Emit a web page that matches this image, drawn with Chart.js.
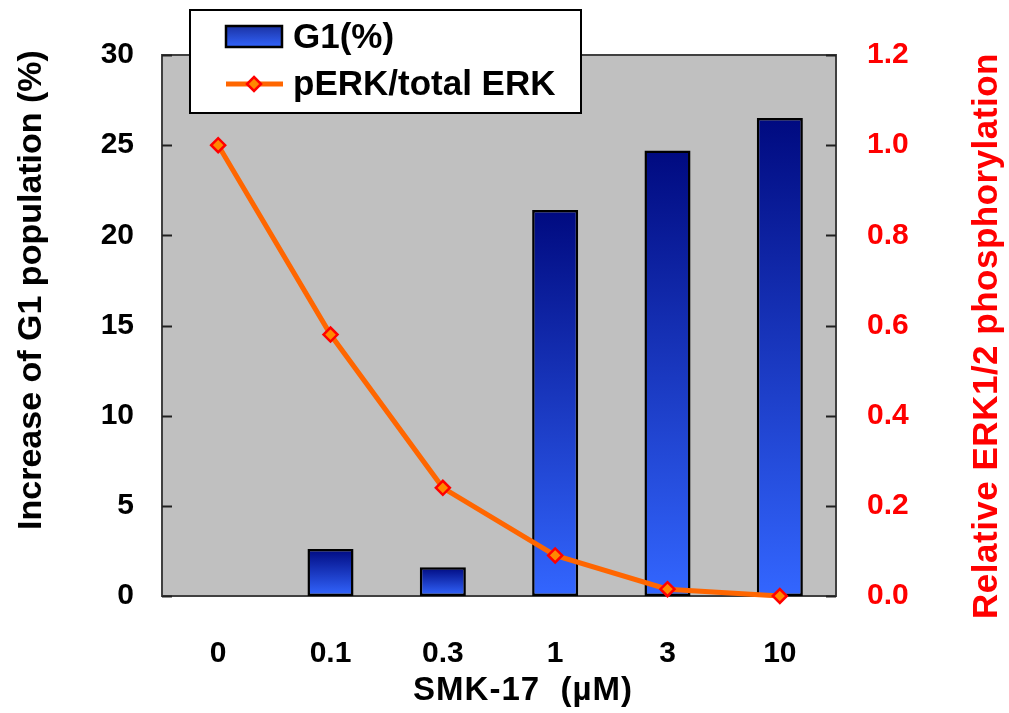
<!DOCTYPE html>
<html>
<head>
<meta charset="utf-8">
<title>SMK-17: G1 population and ERK phosphorylation</title>
<script src="https://cdn.jsdelivr.net/npm/chart.js@4.4.1/dist/chart.umd.min.js"></script>
<style>
    html, body { margin: 0; padding: 0; background: #fff; }
    canvas { display: block; }
</style>
</head>
<body>
<canvas id="g1Chart" width="1009" height="713"></canvas>
<script>
// SMK-17 dose response: G1 arrest (bars) vs ERK1/2 phosphorylation (line)

const doses = ['0', '0.1', '0.3', '1', '3', '10'];
const g1Increase = [0, 2.6, 1.6, 21.4, 24.7, 26.5];
const perkRatio = [1.0, 0.58, 0.24, 0.09, 0.015, 0.0];

const g1Label = 'G1(%)';
const perkLabel = 'pERK/total ERK';
const leftTitle = 'Increase of G1 population (%)';
const rightTitle = 'Relative ERK1/2 phosphorylation';
const xTitle = 'SMK-17  (\u00b5M)';

const FONT = '"Liberation Sans", Arial, sans-serif';
const NAVY = '#000a80';
const BLUE = '#3366ff';
const ORANGE = '#ff6600';
const RED = '#ff0000';

// Each bar gets its own top-to-bottom gradient
function barGradient(context) {
    const chart = context.chart;
    if (!chart.chartArea || context.type !== 'data') return BLUE;
    const yScale = chart.scales.y;
    const top = yScale.getPixelForValue(context.raw);
    const bottom = yScale.getPixelForValue(0);
    if (bottom - top < 1) return BLUE;
    const g = chart.ctx.createLinearGradient(0, top, 0, bottom);
    g.addColorStop(0, NAVY);
    g.addColorStop(1, BLUE);
    return g;
}

// Gray plot area, frame and inward tick marks
const plotFrame = {
    id: 'plotFrame',
    beforeDraw(chart) {
        const { ctx, chartArea: a } = chart;
        ctx.save();
        ctx.fillStyle = '#fff';
        ctx.fillRect(0, 0, chart.width, chart.height);
        ctx.fillStyle = '#c0c0c0';
        ctx.fillRect(a.left, a.top, a.right - a.left, a.bottom - a.top);
        ctx.restore();
    },
    beforeDatasetsDraw(chart) {
        const { ctx, chartArea: a, scales } = chart;
        ctx.save();
        ctx.strokeStyle = '#404040';
        ctx.lineWidth = 2;
        ctx.strokeRect(a.left, a.top, a.right - a.left, a.bottom - a.top);

        ctx.strokeStyle = '#202020';
        ctx.beginPath();
        scales.y.ticks.forEach((t, i) => {
            const py = Math.round(scales.y.getPixelForTick(i)) + 0.5;
            ctx.moveTo(a.left, py);
            ctx.lineTo(a.left + 10, py);
        });
        scales.y1.ticks.forEach((t, i) => {
            const py = Math.round(scales.y1.getPixelForTick(i)) + 0.5;
            ctx.moveTo(a.right, py);
            ctx.lineTo(a.right - 10, py);
        });
        ctx.stroke();
        ctx.restore();
    }
};

// Axis titles and the boxed legend drawn over the plot
const overlay = {
    id: 'overlay',
    afterDraw(chart) {
        const ctx = chart.ctx;
        ctx.save();

        // left title, reads bottom to top
        ctx.font = 'bold 34px ' + FONT;
        ctx.fillStyle = '#000';
        ctx.textAlign = 'center';
        ctx.textBaseline = 'alphabetic';
        ctx.save();
        ctx.translate(41, 290);
        ctx.rotate(-Math.PI / 2);
        ctx.fillText(leftTitle, 0, 0);
        ctx.restore();

        // right title, also bottom to top
        ctx.font = 'bold 35px ' + FONT;
        ctx.letterSpacing = '0.5px';
        ctx.fillStyle = RED;
        ctx.save();
        ctx.translate(997, 336);
        ctx.rotate(-Math.PI / 2);
        ctx.fillText(rightTitle, 0, 0);
        ctx.restore();
        ctx.letterSpacing = '0px';

        // x title
        ctx.font = 'bold 33px ' + FONT;
        ctx.letterSpacing = '1px';
        ctx.fillStyle = '#000';
        ctx.fillText(xTitle, 523, 700);
        ctx.letterSpacing = '0px';

        // legend box
        ctx.fillStyle = '#fff';
        ctx.fillRect(190, 10, 391, 103);
        ctx.strokeStyle = '#000';
        ctx.lineWidth = 2;
        ctx.strokeRect(190, 10, 391, 103);

        const sw = ctx.createLinearGradient(0, 25, 0, 48);
        sw.addColorStop(0, '#1a30a0');
        sw.addColorStop(1, BLUE);
        ctx.fillStyle = sw;
        ctx.fillRect(226, 26, 56, 21);
        ctx.lineWidth = 2.5;
        ctx.strokeRect(226, 26, 56, 21);

        ctx.strokeStyle = ORANGE;
        ctx.lineWidth = 5;
        ctx.beginPath();
        ctx.moveTo(226, 84);
        ctx.lineTo(283, 84);
        ctx.stroke();
        ctx.beginPath();
        ctx.moveTo(254, 77);
        ctx.lineTo(261, 84);
        ctx.lineTo(254, 91);
        ctx.lineTo(247, 84);
        ctx.closePath();
        ctx.fillStyle = '#ff8800';
        ctx.fill();
        ctx.strokeStyle = RED;
        ctx.lineWidth = 2.5;
        ctx.stroke();

        ctx.font = 'bold 35px ' + FONT;
        ctx.fillStyle = '#000';
        ctx.textAlign = 'left';
        ctx.textBaseline = 'middle';
        ctx.fillText(g1Label, 293, 38);
        ctx.fillText(perkLabel, 293, 85);

        ctx.restore();
    }
};

const tickFont = { family: FONT, size: 30, weight: 'bold' };

new Chart(document.getElementById('g1Chart'), {
    type: 'bar',
    data: {
        labels: doses,
        datasets: [{
            type: 'line',
            label: perkLabel,
            data: perkRatio,
            yAxisID: 'y1',
            borderColor: ORANGE,
            borderWidth: 5,
            tension: 0,
            pointStyle: 'rectRot',
            pointRadius: 7,
            pointBackgroundColor: '#ff8800',
            pointBorderColor: RED,
            pointBorderWidth: 2.5,
            clip: false,
            order: 1
        }, {
            type: 'bar',
            label: g1Label,
            data: g1Increase,
            yAxisID: 'y',
            backgroundColor: barGradient,
            borderColor: '#000',
            borderWidth: 2.5,
            borderSkipped: false,
            barPercentage: 0.41,
            categoryPercentage: 1,
            order: 2
        }]
    },
    options: {
        responsive: false,
        animation: false,
        layout: { padding: { top: 55, left: 0, right: 0, bottom: 0 } },
        plugins: {
            legend: { display: false },
            tooltip: { enabled: false }
        },
        scales: {
            x: {
                grid: { display: false, drawTicks: false },
                border: { display: false },
                ticks: { color: '#000', font: tickFont, padding: 40, maxRotation: 0 },
                afterFit: s => { s.height = 117; }
            },
            y: {
                position: 'left',
                min: 0,
                max: 30,
                grid: { display: false, drawTicks: false },
                border: { display: false },
                ticks: { stepSize: 5, color: '#000', font: tickFont, padding: 28 },
                afterFit: s => { s.width = 162; }
            },
            y1: {
                position: 'right',
                min: 0,
                max: 1.2,
                grid: { display: false, drawTicks: false },
                border: { display: false },
                ticks: {
                    stepSize: 0.2,
                    color: RED,
                    font: tickFont,
                    padding: 31,
                    callback: v => v.toFixed(1)
                },
                afterFit: s => { s.width = 173; }
            }
        }
    },
    plugins: [plotFrame, overlay]
});
</script>
</body>
</html>
